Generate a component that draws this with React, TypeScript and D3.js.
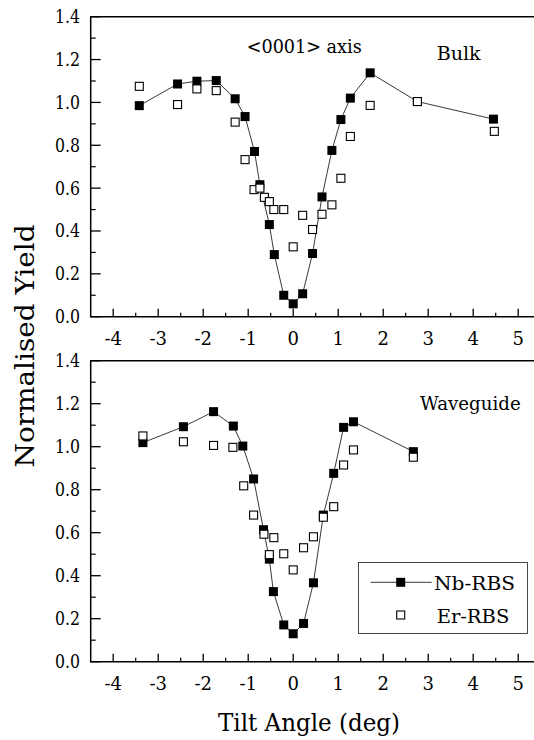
import React from "react";
import * as d3 from "d3";

// ---- data ----
const topNbX = [-3.42, -2.57, -2.14, -1.71, -1.29, -1.07, -0.86, -0.74, -0.53, -0.42, -0.21, 0, 0.21, 0.43, 0.64, 0.86, 1.06, 1.27, 1.71, 2.76, 4.45];
const topNbY = [0.985, 1.086, 1.099, 1.102, 1.017, 0.934, 0.771, 0.616, 0.43, 0.29, 0.1, 0.06, 0.107, 0.295, 0.559, 0.776, 0.92, 1.02, 1.138, 1.004, 0.922];
const topErX = [-3.42, -2.57, -2.14, -1.71, -1.29, -1.07, -0.87, -0.74, -0.64, -0.53, -0.43, -0.21, 0, 0.21, 0.43, 0.64, 0.86, 1.06, 1.27, 1.71, 2.76, 4.47];
const topErY = [1.075, 0.99, 1.063, 1.055, 0.908, 0.733, 0.593, 0.6, 0.557, 0.537, 0.5, 0.5, 0.326, 0.473, 0.407, 0.478, 0.522, 0.646, 0.841, 0.986, 1.004, 0.865];

const botNbX = [-3.34, -2.44, -1.77, -1.33, -1.12, -0.88, -0.66, -0.53, -0.44, -0.21, 0, 0.23, 0.45, 0.67, 0.9, 1.12, 1.34, 2.67];
const botNbY = [1.019, 1.093, 1.163, 1.096, 1.003, 0.85, 0.614, 0.477, 0.326, 0.171, 0.13, 0.178, 0.367, 0.682, 0.876, 1.09, 1.116, 0.977];
const botErX = [-3.34, -2.44, -1.77, -1.34, -1.1, -0.88, -0.65, -0.53, -0.43, -0.21, 0, 0.23, 0.45, 0.67, 0.9, 1.12, 1.34, 2.67];
const botErY = [1.05, 1.023, 1.006, 0.997, 0.818, 0.682, 0.593, 0.498, 0.577, 0.502, 0.427, 0.53, 0.581, 0.672, 0.721, 0.915, 0.985, 0.951];

const xTicks = [-4, -3, -2, -1, 0, 1, 2, 3, 4, 5];
const xMinor = [-3.5, -2.5, -1.5, -0.5, 0.5, 1.5, 2.5, 3.5, 4.5];
const yTicks = [0, 0.2, 0.4, 0.6, 0.8, 1.0, 1.2, 1.4];
const yMinor = [0.1, 0.3, 0.5, 0.7, 0.9, 1.1, 1.3];

const seriesNames = ["Nb-RBS", "Er-RBS"];
const FONT = '"DejaVu Serif", "Liberation Serif", serif';
const ts = (size: number) => ({ fontFamily: FONT, fontSize: size + "px" });

const x = d3.scaleLinear().domain([-4.5, 5.5]).range([90.7, 540.7]);

function Panel({ y0, y1, nbX, nbY, erX, erY }: any) {
  const y = d3.scaleLinear().domain([0, 1.4]).range([y0, y1]);
  const nb = nbX.map((v: number, i: number) => [v, nbY[i]] as [number, number]);
  const er = erX.map((v: number, i: number) => [v, erY[i]] as [number, number]);
  const line = d3.line<[number, number]>().x((d) => x(d[0])).y((d) => y(d[1]));
  const left = x(-4.5);
  const right = x(5.5);
  return (
    <g>
      <path d={`M${right},${y(1.4)}H${left}V${y(0)}H${right}`} fill="none" stroke="#000" strokeWidth={1.5} />
      {xTicks.map((t) => (
        <g key={"xt" + t}>
          <line x1={x(t)} x2={x(t)} y1={y(0)} y2={y(0) - 8} stroke="#000" strokeWidth={1.3} />
          <text x={x(t)} y={y(0) + 28} textAnchor="middle" style={ts(18)}>{String(t)}</text>
        </g>
      ))}
      {xMinor.map((t) => (
        <line key={"xm" + t} x1={x(t)} x2={x(t)} y1={y(0)} y2={y(0) - 4} stroke="#000" strokeWidth={1.2} />
      ))}
      {yTicks.map((t) => (
        <g key={"yt" + t}>
          <line x1={left} x2={left + 10} y1={y(t)} y2={y(t)} stroke="#000" strokeWidth={1.3} />
          <text x={80} y={y(t) + 6.5} textAnchor="end" style={ts(18)} textLength={25} lengthAdjust="spacingAndGlyphs">{t.toFixed(1)}</text>
        </g>
      ))}
      {yMinor.map((t) => (
        <line key={"ym" + t} x1={left} x2={left + 5} y1={y(t)} y2={y(t)} stroke="#000" strokeWidth={1.2} />
      ))}
      <path d={line(nb) || ""} fill="none" stroke="#222" strokeWidth={0.9} />
      {nb.map((d: [number, number], i: number) => (
        <rect key={"nb" + i} x={x(d[0]) - 4.5} y={y(d[1]) - 4.5} width={9} height={9} fill="#000" />
      ))}
      {er.map((d: [number, number], i: number) => (
        <rect key={"er" + i} x={x(d[0]) - 4} y={y(d[1]) - 4} width={8} height={8} fill="#fff" stroke="#000" strokeWidth={1.1} />
      ))}
    </g>
  );
}

export default function App() {
  return (
    <svg width={534} height={740} style={{ position: "absolute", left: 0, top: 0, background: "#fff" }}>
      <rect x={0} y={0} width={534} height={740} fill="#fff" />
      <Panel y0={316.7} y1={16.7} nbX={topNbX} nbY={topNbY} erX={topErX} erY={topErY} />
      <Panel y0={661.7} y1={360.7} nbX={botNbX} nbY={botNbY} erX={botErX} erY={botErY} />

      <text x={246.7} y={52.5} style={ts(18)} textLength={115} lengthAdjust="spacingAndGlyphs">&lt;0001&gt; axis</text>
      <text x={436.7} y={60} style={ts(19)} textLength={44} lengthAdjust="spacingAndGlyphs">Bulk</text>
      <text x={420} y={410} style={ts(19)} textLength={100.7} lengthAdjust="spacingAndGlyphs">Waveguide</text>

      <rect x={358.5} y={562.5} width={169} height={71} fill="#fff" stroke="#333" strokeWidth={0.9} />
      <line x1={370.7} x2={431.7} y1={582.3} y2={582.3} stroke="#222" strokeWidth={0.9} />
      <rect x={400.7 - 4.5} y={582.3 - 4.5} width={9} height={9} fill="#000" />
      <text x={434} y={590} style={ts(18)} textLength={81} lengthAdjust="spacingAndGlyphs">{seriesNames[0]}</text>
      <rect x={400.7 - 4} y={615 - 4} width={8} height={8} fill="#fff" stroke="#000" strokeWidth={1.1} />
      <text x={436.7} y={622.7} style={ts(18)} textLength={72.6} lengthAdjust="spacingAndGlyphs">{seriesNames[1]}</text>

      <text x={309} y={731} textAnchor="middle" style={ts(24)} textLength={182} lengthAdjust="spacingAndGlyphs">Tilt Angle (deg)</text>
      <text transform="translate(34,346) rotate(-90)" textAnchor="middle" style={ts(26)} textLength={243} lengthAdjust="spacingAndGlyphs">Normalised Yield</text>
    </svg>
  );
}
